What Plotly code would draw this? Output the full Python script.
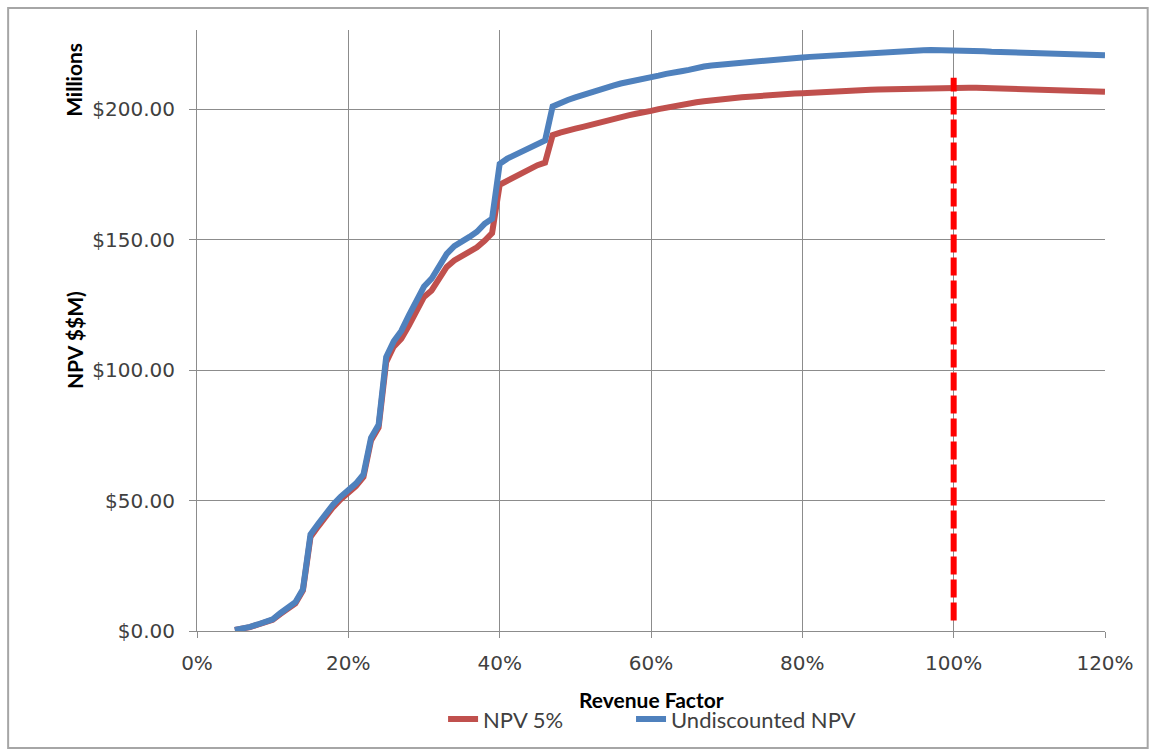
import plotly.graph_objects as go

# Revenue factor (%) for each evaluated pit shell
revenue_factor = list(range(5, 121))

# Undiscounted NPV ($M)
undiscounted_npv = [
    0.4, 0.8, 1.6, 2.5, 3.3, 4.5, 6.8, 9.0, 11.0, 16.0,            # 5-14
    37.0, 41.0, 45.0, 48.5, 51.5, 54.0, 56.5, 60.0, 74.0, 79.0,    # 15-24
    105.0, 111.0, 115.0, 121.0, 127.0, 132.0, 135.0, 140.0, 144.5, 147.5,  # 25-34
    149.0, 151.0, 153.0, 156.0, 158.0, 179.0, 181.0, 182.5, 184.0, 185.5,  # 35-44
    187.0, 188.0, 201.0, 202.5, 203.5, 204.5, 205.5, 206.5, 207.3, 208.2,  # 45-54
    209.0, 209.8, 210.3, 210.8, 211.3, 212.0, 212.8, 213.5, 214.2, 214.5,  # 55-64
    215.0, 215.8, 216.3, 216.7, 217.0, 217.3, 217.6, 217.9, 218.1, 218.4,  # 65-74
    218.6, 218.8, 219.0, 219.3, 219.5, 219.8, 220.0, 220.2, 220.4, 220.6,  # 75-84
    220.8, 221.0, 221.2, 221.4, 221.5, 221.7, 221.9, 222.0, 222.1, 222.2,  # 85-94
    222.4, 222.5, 222.6, 222.6, 222.6, 222.6, 222.6, 222.5, 222.4, 222.2,  # 95-104
    222.0, 221.9, 221.8, 221.7, 221.7, 221.6, 221.5, 221.4, 221.4, 221.3,  # 105-114
    221.3, 221.3, 221.2, 221.1, 221.0, 220.6,                              # 115-120
]

# NPV discounted at 5% ($M)
npv_5pct = [
    0.4, 0.8, 1.5, 2.4, 3.2, 4.3, 6.5, 8.7, 10.6, 15.5,
    36.0, 40.0, 44.0, 47.5, 50.5, 53.0, 55.5, 59.0, 73.0, 78.0,
    103.0, 109.0, 112.0, 117.0, 123.0, 128.0, 130.5, 135.0, 139.5, 142.0,
    143.5, 145.0, 147.0, 149.5, 152.5, 171.0, 172.5, 174.0, 176.0, 177.5,
    178.5, 179.5, 190.0, 191.0, 192.0, 192.5, 193.2, 194.0, 194.6, 195.3,
    196.0, 197.0, 197.6, 198.2, 198.6, 199.3, 200.0, 200.6, 201.1, 201.5,
    202.0, 202.6, 203.0, 203.4, 203.7, 204.0, 204.2, 204.5, 204.7, 205.0,
    205.2, 205.4, 205.6, 205.8, 206.0, 206.1, 206.3, 206.5, 206.6, 206.8,
    207.0, 207.1, 207.2, 207.3, 207.4, 207.5, 207.6, 207.7, 207.8, 207.9,
    208.0, 208.1, 208.2, 208.2, 208.3, 208.3, 208.3, 208.2, 208.2, 208.1,
    208.0, 207.9, 207.8, 207.7, 207.7, 207.6, 207.6, 207.5, 207.5, 207.4,
    207.4, 207.3, 207.3, 207.1, 206.9, 206.6,
]

# Selected shell marker (revenue factor 100%)
selected_x = [100, 100]
selected_y = [4, 212]

x_ticks = [0, 20, 40, 60, 80, 100, 120]
x_tick_text = ["0%", "20%", "40%", "60%", "80%", "100%", "120%"]
y_ticks = [0, 50, 100, 150, 200]
y_tick_text = ["$0.00", "$50.00", "$100.00", "$150.00", "$200.00"]

GRID = "#8C8C8C"
TITLE_FONT = dict(family="Lato", size=21, color="black")
LEGEND_FONT = dict(family="Lato", size=22, color="#404040")

fig = go.Figure()
fig.add_trace(go.Scatter(
    x=revenue_factor, y=npv_5pct, mode="lines", name="NPV 5%",
    line=dict(color="#C0504D", width=6), legend="legend",
))
fig.add_trace(go.Scatter(
    x=revenue_factor, y=undiscounted_npv, mode="lines", name="Undiscounted NPV",
    line=dict(color="#4F81BD", width=6), legend="legend2",
))
fig.add_trace(go.Scatter(
    x=selected_x, y=selected_y, mode="lines", showlegend=False,
    line=dict(color="#FF0000", width=6, dash="18px,5px"),
))

fig.update_layout(
    width=1151, height=751,
    margin=dict(l=197, r=46, t=30, b=120, autoexpand=False),
    paper_bgcolor="white", plot_bgcolor="white",
    font=dict(family="DejaVu Sans", size=20, color="#404040"),
    showlegend=True,
    legend=dict(
        orientation="h", x=0.271, xanchor="left", y=-0.1117, yanchor="top",
        font=LEGEND_FONT, bgcolor="rgba(0,0,0,0)",
    ),
    legend2=dict(
        orientation="h", x=0.478, xanchor="left", y=-0.1117, yanchor="top",
        font=LEGEND_FONT, bgcolor="rgba(0,0,0,0)",
    ),
    xaxis=dict(
        range=[0, 120], tickvals=x_ticks, ticktext=x_tick_text,
        showgrid=True, gridcolor=GRID, gridwidth=1,
        showline=True, linecolor=GRID, linewidth=1,
        ticks="outside", ticklen=6, tickcolor=GRID,
        ticklabelstandoff=8,
        zeroline=False,
    ),
    yaxis=dict(
        range=[0, 230.3], tickvals=y_ticks, ticktext=y_tick_text,
        showgrid=True, gridcolor=GRID, gridwidth=1,
        showline=True, linecolor=GRID, linewidth=1,
        ticks="outside", ticklen=7, tickcolor=GRID,
        ticklabelstandoff=10,
        zeroline=False,
    ),
    shapes=[dict(
        type="rect", xref="paper", yref="paper",
        x0=-0.208, x1=1.047, y0=-0.1947, y1=1.0366,
        line=dict(color="#A6A6A6", width=2), layer="below",
    )],
    annotations=[
        dict(text="<b>Revenue Factor</b>", xref="paper", yref="paper",
             x=0.5, y=-0.1148, xanchor="center", yanchor="middle", showarrow=False,
             font=TITLE_FONT),
        dict(text="<b>NPV $$M)</b>", xref="paper", yref="paper",
             x=-0.1355, y=0.484, xanchor="center", yanchor="middle", showarrow=False,
             textangle=-90, font=TITLE_FONT),
        dict(text="<b>Millions</b>", xref="paper", yref="paper",
             x=-0.1355, y=0.917, xanchor="center", yanchor="middle", showarrow=False,
             textangle=-90, font=TITLE_FONT),
    ],
)

fig.write_html("out.html")
